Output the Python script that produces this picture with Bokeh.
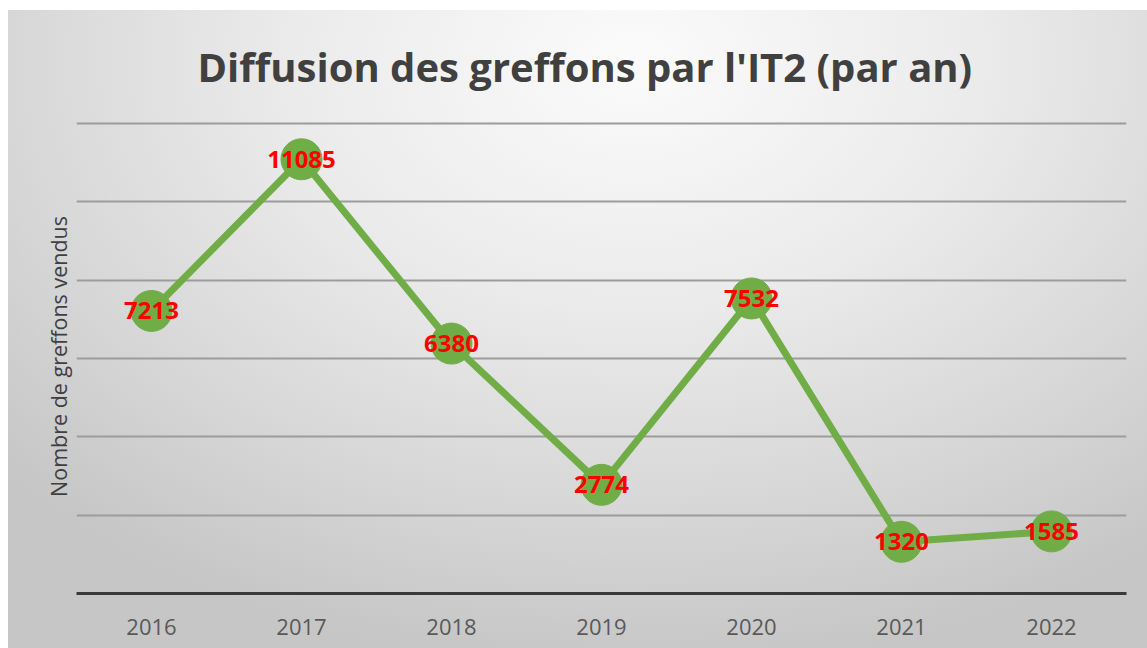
from bokeh.plotting import figure
from bokeh.models import FixedTicker, ColumnDataSource
from bokeh.core.properties import value
from bokeh.embed import file_html
from bokeh.resources import INLINE

years = ["2016", "2017", "2018", "2019", "2020", "2021", "2022"]
grafts = [7213, 11085, 6380, 2774, 7532, 1320, 1585]
labels = [str(v) for v in grafts]
y_ticks = [0, 2000, 4000, 6000, 8000, 10000, 12000]

title_text = "Diffusion des greffons par l'IT2 (par an)"
y_title = "Nombre de greffons vendus"

W, H = 1139, 638
p = figure(x_range=years, y_range=(0, 12100), width=W, height=H,
           output_backend="svg", toolbar_location=None,
           min_border_left=68, min_border_right=21, min_border_top=108,
           min_border_bottom=55)
p.background_fill_alpha = 0
p.border_fill_alpha = 0
p.outline_line_color = None
p.styles = {
    "position": "absolute", "left": "8px", "top": "10px",
    "background": "radial-gradient(ellipse 75% 95% at 55% 8%, #fbfbfb 0%, #ebebeb 40%, #d6d6d6 75%, #c6c6c6 100%)",
}

# title
p.title.text = title_text
p.title.align = "left"
p.title.text_font = "Open Sans"
p.title.text_font_style = "bold"
p.title.text_font_size = "40px"
p.title.text_color = "#404040"
p.title.standoff = 52
p.title.offset = 121

# grid
p.xgrid.grid_line_color = None
p.ygrid.ticker = FixedTicker(ticks=y_ticks)
p.ygrid.grid_line_color = "#9c9c9c"
p.ygrid.grid_line_width = 2

# y axis: title only
p.yaxis.ticker = FixedTicker(ticks=y_ticks)
p.yaxis.major_label_text_font_size = "0px"
p.yaxis.major_tick_line_color = None
p.yaxis.major_tick_out = 0
p.yaxis.major_tick_in = 0
p.yaxis.minor_tick_line_color = None
p.yaxis.minor_tick_out = 0
p.yaxis.axis_line_color = None
p.yaxis.axis_label = y_title
p.yaxis.axis_label_text_font = "Open Sans"
p.yaxis.axis_label_text_font_style = "normal"
p.yaxis.axis_label_text_font_size = "21.5px"
p.yaxis.axis_label_text_color = "#404040"
p.yaxis.axis_label_standoff = 4
p.yaxis.major_label_standoff = 0

# x axis
p.xaxis.axis_line_color = "#3a3a3a"
p.xaxis.axis_line_width = 3
p.xaxis.major_tick_line_color = None
p.xaxis.minor_tick_line_color = None
p.xaxis.major_label_text_font = "Open Sans"
p.xaxis.major_label_text_font_size = "22px"
p.xaxis.major_label_text_color = "#595959"
p.xaxis.major_label_standoff = 19

src = ColumnDataSource(dict(x=years, y=grafts, t=labels))
p.line("x", "y", source=src, line_color="#70AD47", line_width=7)
p.scatter("x", "y", source=src, size=41, fill_color="#70AD47", line_color="#70AD47")
p.text("x", "y", text="t", source=src, text_color="#FF0000",
       text_font=value("Open Sans"), text_font_style="bold",
       text_font_size="24px", text_align="center", text_baseline="middle")

open("out.html", "w").write(file_html(p, INLINE))
